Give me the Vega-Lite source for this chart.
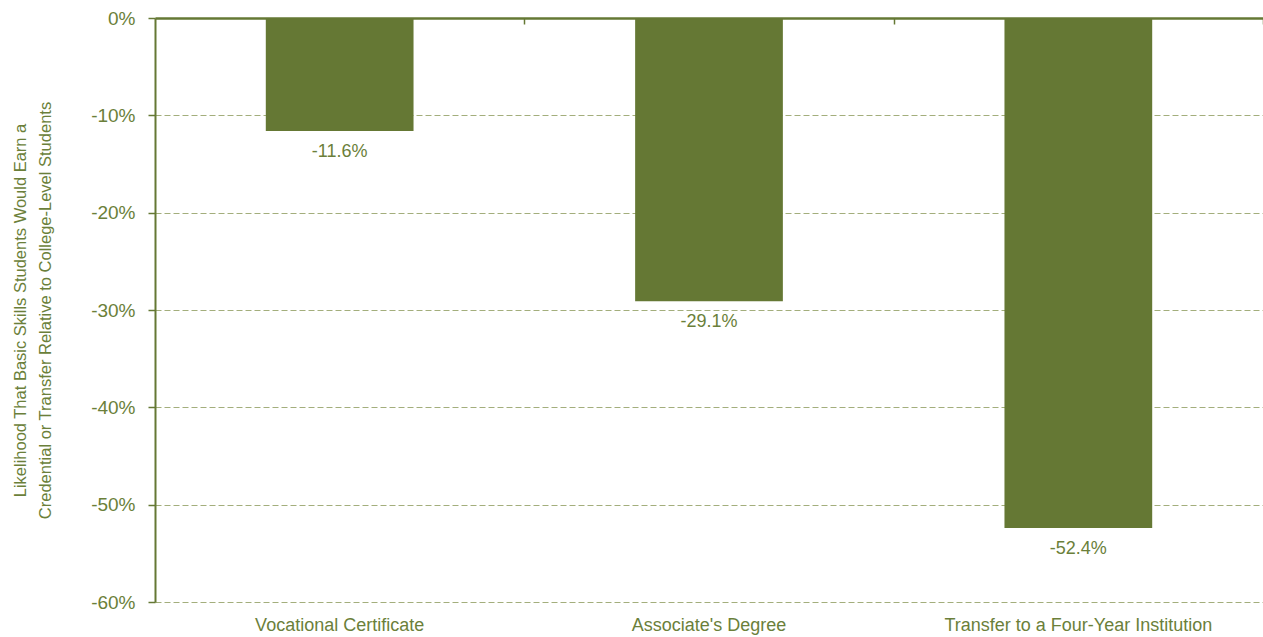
{
  "$schema": "https://vega.github.io/schema/vega-lite/v6.json",
  "width": 1108,
  "height": 584,
  "autosize": {"type": "none"},
  "padding": {"left": 155, "top": 18, "right": 0, "bottom": 35},
  "background": "white",
  "data": {"values": [
    {"outcome": "Vocational Certificate", "value": -0.116},
    {"outcome": "Associate's Degree", "value": -0.291},
    {"outcome": "Transfer to a Four-Year Institution", "value": -0.524}
  ]},
  "config": {
    "view": {"stroke": null},
    "font": "Liberation Sans",
    "axis": {"labelFont": "Liberation Sans", "titleFont": "Liberation Sans"}
  },
  "encoding": {
    "x": {
      "field": "outcome", "type": "nominal", "sort": null,
      "scale": {"paddingInner": 0.6, "paddingOuter": 0.3},
      "axis": {"orient": "bottom", "title": null, "domain": false, "ticks": false, "labelAngle": 0,
               "labelFontSize": 18, "labelColor": "#6B7F3A", "labelPadding": 14, "labelLimit": 0}
    },
    "y": {
      "field": "value", "type": "quantitative",
      "scale": {"domain": [-0.6, 0], "nice": false, "zero": true},
      "axis": {
        "values": [0, -0.1, -0.2, -0.3, -0.4, -0.5, -0.6],
        "labelExpr": "replace(format(datum.value, '.0%'), '\u2212', '-')",
        "title": ["Likelihood That Basic Skills Students Would Earn a", "Credential or Transfer Relative to College-Level Students"],
        "titleFontSize": 16.5, "titleFontWeight": "normal", "titleColor": "#6B7F3A",
        "titlePadding": 37, "titleLineHeight": 25,
        "labelFontSize": 19, "labelColor": "#6B7F3A", "labelPadding": 13,
        "tickSize": 7, "tickColor": "#657834", "tickWidth": 1.5,
        "domainColor": "#657834", "domainWidth": 2,
        "grid": true, "gridColor": "#A3AE7C", "gridDash": [6, 3], "gridWidth": 1
      }
    }
  },
  "layer": [
    {"mark": {"type": "bar", "color": "#657834"}},
    {
      "mark": {"type": "text", "baseline": "top", "dy": 12, "fontSize": 18, "color": "#6B7F3A",
               "text": {"expr": "replace(format(datum.value, '.1%'), '\u2212', '-')"}},
      "encoding": {
        "x": {
          "field": "outcome", "type": "nominal", "sort": null,
          "axis": {"orient": "top", "title": null, "labels": false, "domain": true, "domainColor": "#657834",
                   "domainWidth": 2.5, "ticks": true, "tickOffset": 184.67, "tickSize": -6,
                   "tickColor": "#657834", "tickWidth": 1.5}
        }
      }
    }
  ]
}
